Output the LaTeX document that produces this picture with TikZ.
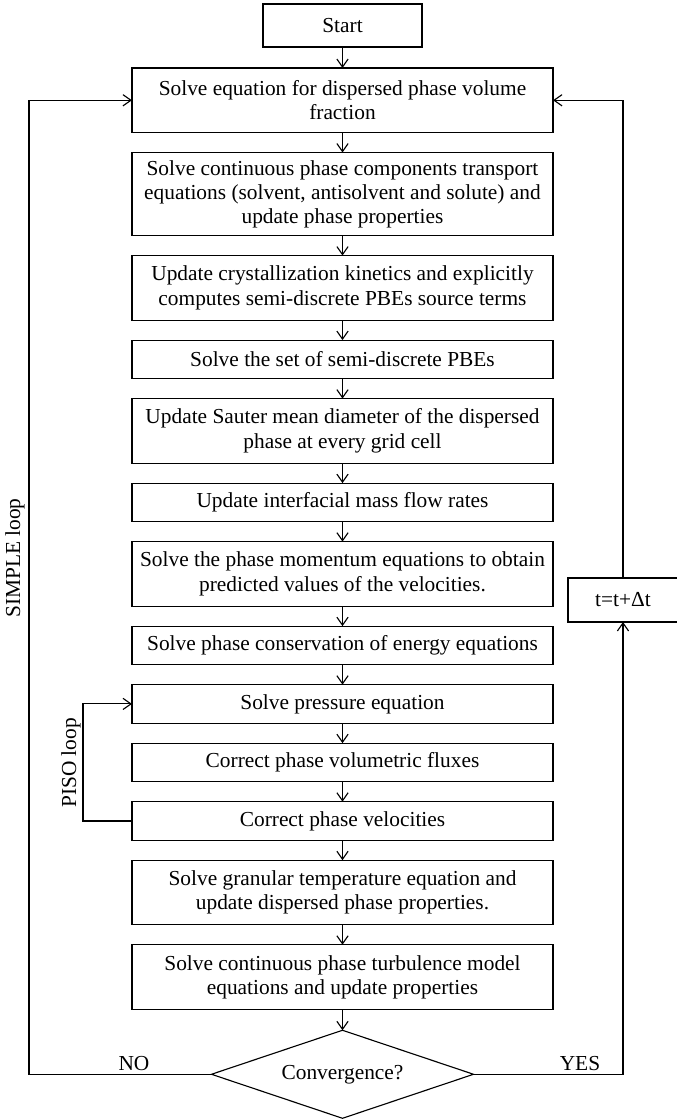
\documentclass[tikz,border=0pt]{standalone}
\usepackage{fontspec}
\setmainfont{Liberation Serif}
\usetikzlibrary{positioning,shapes.geometric,arrows.meta}

\begin{document}
\begin{tikzpicture}[x=0.025cm, y=-0.025cm, node distance=0.5cm, line width=0.8pt,
  every node/.style={font=\fontsize{15.2}{17.2}\selectfont, align=center, inner sep=0pt, outer sep=0pt},
  box/.style={draw, minimum width=10.525cm},
  one/.style={box, minimum height=0.9625cm},
  two/.style={box, minimum height=1.6125cm},
  three/.style={box, minimum height=2.075cm},
  arr/.style={-{Straight Barb[length=2mm,width=2.8mm]}}]

\useasboundingbox (0,0) rectangle (677,1119);

\node[draw, minimum width=3.975cm, minimum height=1.075cm] (nstart) at (342.5,25.5) {Start};
\node[two, below=0.525cm of nstart] (n1) {Solve equation for dispersed phase volume\\fraction};
\node[three, below=of n1] (n2) {Solve continuous phase components transport\\equations (solvent, antisolvent and solute) and\\update phase properties};
\node[two, below=of n2] (n3) {Update crystallization kinetics and explicitly\\computes semi-discrete PBEs source terms};
\node[one, below=of n3] (n4) {Solve the set of semi-discrete PBEs};
\node[two, below=of n4] (n5) {Update Sauter mean diameter of the dispersed\\phase at every grid cell};
\node[one, below=of n5] (n6) {Update interfacial mass flow rates};
\node[two, below=of n6] (n7) {Solve the phase momentum equations to obtain\\predicted values of the velocities.};
\node[one, below=of n7] (n8) {Solve phase conservation of energy equations};
\node[one, below=of n8] (n9) {Solve pressure equation};
\node[one, below=of n9] (n10) {Correct phase volumetric fluxes};
\node[one, below=of n10] (n11) {Correct phase velocities};
\node[two, below=of n11] (n12) {Solve granular temperature equation and\\update dispersed phase properties.};
\node[two, below=of n12] (n13) {Solve continuous phase turbulence model\\equations and update properties};
\node[draw, diamond, aspect=3, minimum width=6.55cm, minimum height=2.2cm, below=0.525cm of n13] (nconv) {Convergence?};

\node[draw, minimum width=2.75cm, minimum height=1.1cm] (nt) at (623,600) {t=t+Δt};

\coordinate (simplex) at (29,0);
\coordinate (pisox) at (83,0);

% main sequence
\draw[arr] (nstart) -- (n1);
\foreach \a/\b in {n1/n2, n2/n3, n3/n4, n4/n5, n5/n6, n6/n7, n7/n8, n8/n9, n9/n10, n10/n11, n11/n12, n12/n13, n13/nconv}
  \draw[arr] (\a) -- (\b);

% loops
\draw[arr] (nconv.west) -- (nconv.west -| simplex) |- (n1.west);
\draw[arr] (nconv.east) -| (nt.south);
\draw[arr] (nt.north) |- (n1.east);
\draw[arr] (n11.west) -- (n11.west -| pisox) |- (n9.west);

\node[anchor=south] (lno) at (134,1071) {NO};
\node[anchor=south] (lyes) at (580,1071) {YES};
\node[rotate=90] (lsimple) at (15,558) {SIMPLE loop};
\node[rotate=90] (lpiso) at (71,763) {PISO loop};
\end{tikzpicture}
\end{document}
